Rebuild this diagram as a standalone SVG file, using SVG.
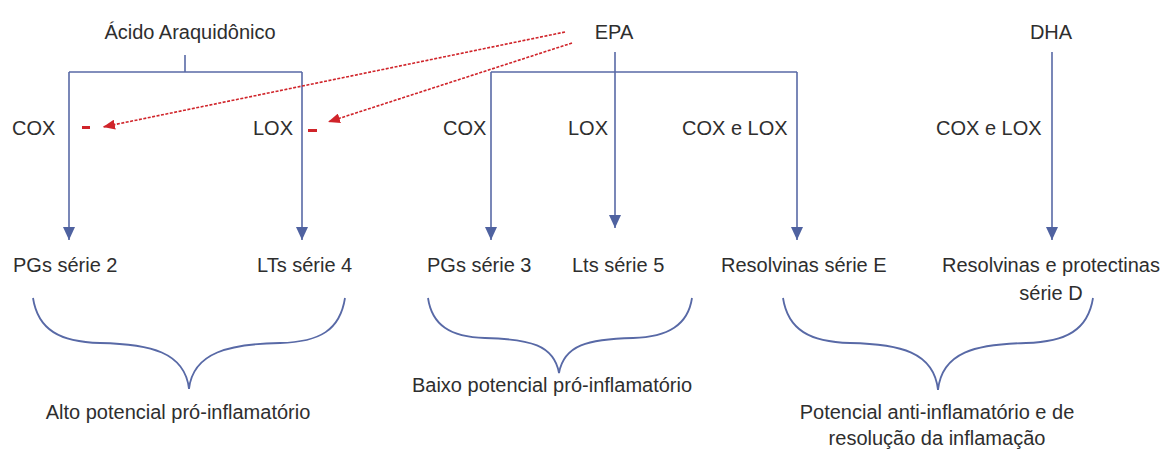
<svg xmlns="http://www.w3.org/2000/svg" width="1173" height="455" viewBox="0 0 1173 455">
  <defs>
    <marker id="ab" markerUnits="userSpaceOnUse" markerWidth="14" markerHeight="12" refX="13" refY="6" orient="auto">
      <path d="M0,0 L13,6 L0,12 z" fill="#4f62a0"/>
    </marker>
    <marker id="ar" markerUnits="userSpaceOnUse" markerWidth="13" markerHeight="10" refX="12" refY="5" orient="auto">
      <path d="M0,0 L12,5 L0,10 z" fill="#d0242a"/>
    </marker>
    <style>
      text { font-family: "Liberation Sans", Arial, sans-serif; font-size: 20px; fill: #2e2e2e; }
      .ln { stroke: #5869a6; stroke-width: 1.6; fill: none; }
      .ar { marker-end: url(#ab); }
      .red { stroke: #d0242a; stroke-width: 1.6; stroke-dasharray: 3 1.5; fill: none; marker-end: url(#ar); }
      .minus { fill: #d0242a; }
      .brace { stroke: #5869a6; stroke-width: 1.8; fill: none; }
      .m { text-anchor: middle; }
    </style>
  </defs>

  <g id="connectors">
    <!-- Acido Araquidonico -->
    <path class="ln" d="M185,55 V72"/>
    <path class="ln" d="M69,72 H302"/>
    <path class="ln ar" d="M69,72 V240"/>
    <path class="ln ar" d="M302,72 V240"/>
    <!-- EPA -->
    <path class="ln ar" d="M615,52 V228"/>
    <path class="ln" d="M491,72 H797"/>
    <path class="ln ar" d="M491,72 V240"/>
    <path class="ln ar" d="M797,72 V240"/>
    <!-- DHA -->
    <path class="ln ar" d="M1052,52 V240"/>
    <!-- red inhibition -->
    <path class="red" d="M565,32 L103,127"/>
    <path class="red" d="M572,43 L328,122"/>
    <rect class="minus" x="82" y="126" width="8" height="3"/>
    <rect class="minus" x="308" y="129" width="9" height="3"/>
  </g>

  <g id="braces">
    <path class="brace" d="M33,298 C38,330 60,342 100,343 C150,344 185,352 189,389 C193,352 230,344 280,343 C320,342 340,330 345,298"/>
    <path class="brace" d="M428,298 C432,325 450,337 485,338 C530,339 554,345 559,373 C564,345 588,339 633,338 C668,337 688,325 692,298"/>
    <path class="brace" d="M783,298 C788,330 810,342 850,343 C900,344 934,352 938,390 C942,352 976,344 1026,343 C1066,342 1088,330 1093,298"/>
  </g>

  <g id="sources">
    <text id="aa" class="m" x="190" y="39">Ácido Araquidônico</text>
    <text id="epa" class="m" x="614" y="39">EPA</text>
    <text id="dha" class="m" x="1051" y="39">DHA</text>
  </g>

  <g id="enzymes">
    <text x="12" y="135">COX</text>
    <text x="253" y="135">LOX</text>
    <text x="443" y="135">COX</text>
    <text x="568" y="135">LOX</text>
    <text x="682" y="135">COX e LOX</text>
    <text x="936" y="135">COX e LOX</text>
  </g>

  <g id="products">
    <text id="pg2" x="13" y="272">PGs série 2</text>
    <text id="lt4" x="257" y="272">LTs série 4</text>
    <text id="pg3" x="427" y="272">PGs série 3</text>
    <text id="lt5" x="572" y="272">Lts série 5</text>
    <text id="rve" x="721" y="272">Resolvinas série E</text>
    <text id="rvd" class="m" x="1051" y="272">Resolvinas e protectinas</text>
    <text class="m" x="1051" y="300">série D</text>
  </g>

  <g id="outcomes">
    <text id="alto" class="m" x="178" y="419">Alto potencial pró-inflamatório</text>
    <text id="baixo" class="m" x="552" y="392">Baixo potencial pró-inflamatório</text>
    <text id="anti" class="m" x="937" y="419">Potencial anti-inflamatório e de</text>
    <text class="m" x="937" y="445">resolução da inflamação</text>
  </g>
</svg>
